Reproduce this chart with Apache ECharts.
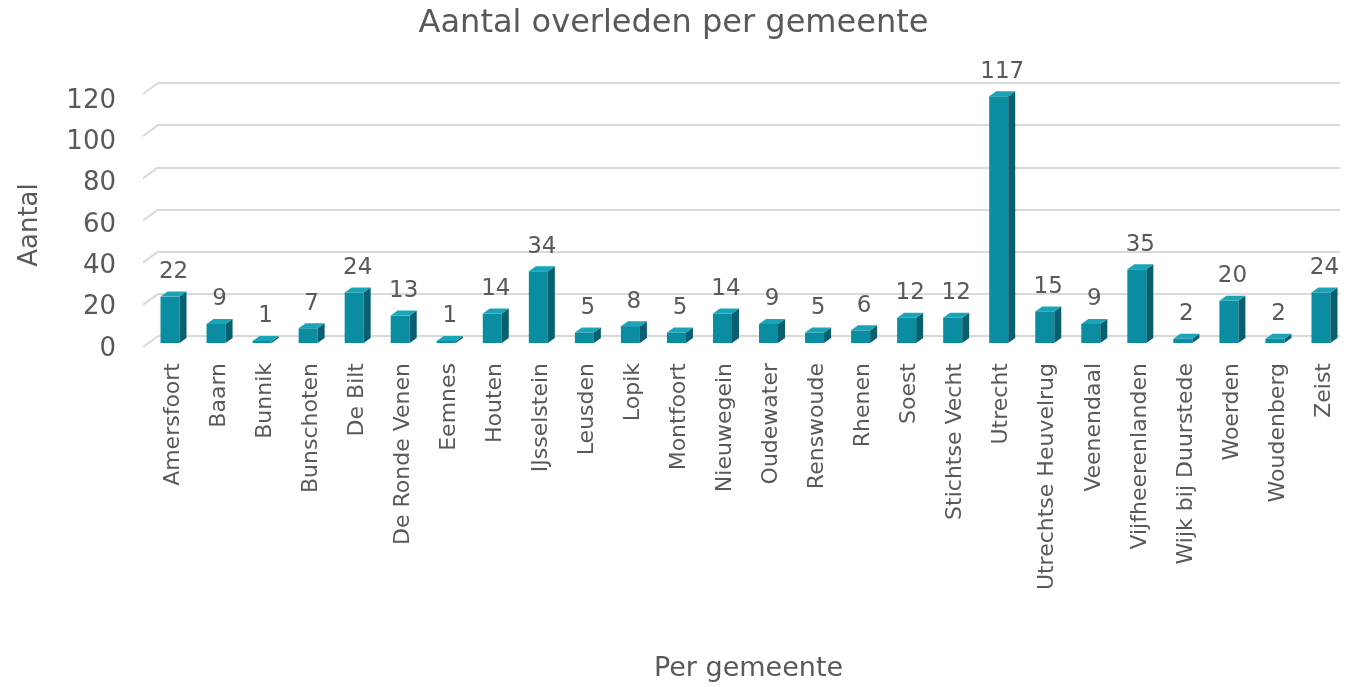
<!DOCTYPE html>
<html>
<head>
<meta charset="utf-8">
<script src="https://cdn.jsdelivr.net/npm/echarts@6/dist/echarts.min.js"></script>
<style>
  html, body { margin: 0; padding: 0; background: #fff; }
  #chart { width: 1347px; height: 687px; }
</style>
</head>
<body>
<div id="chart"></div>
<script>
  var gemeenten = ['Amersfoort', 'Baarn', 'Bunnik', 'Bunschoten', 'De Bilt', 'De Ronde Venen', 'Eemnes', 'Houten',
    'IJsselstein', 'Leusden', 'Lopik', 'Montfoort', 'Nieuwegein', 'Oudewater', 'Renswoude', 'Rhenen', 'Soest',
    'Stichtse Vecht', 'Utrecht', 'Utrechtse Heuvelrug', 'Veenendaal', 'Vijfheerenlanden', 'Wijk bij Duurstede',
    'Woerden', 'Woudenberg', 'Zeist'];
  var overleden = [22, 9, 1, 7, 24, 13, 1, 14, 34, 5, 8, 5, 14, 9, 5, 6, 12, 12, 117, 15, 9, 35, 2, 20, 2, 24];
  var yTicks = [0, 20, 40, 60, 80, 100, 120];

  var font = 'DejaVu Sans, Verdana, sans-serif';
  var grijs = '#595959';
  var lijn = '#d9d9d9';

  // 3D-achtige staaf: voorkant, zijkant, bovenkant + label
  function renderBar(params, api) {
    var v = api.value(1);
    var base = api.coord([api.value(0), 0]);
    var top = api.coord([api.value(0), v]);
    var w = 19, d = 7, dy = 5;
    var x = base[0] - w / 2 - 3;
    var h = Math.max(base[1] - top[1], 0);
    return {
      type: 'group',
      children: [
        { type: 'rect', shape: { x: x, y: top[1], width: w, height: h }, style: { fill: '#0a8ca1' } },
        { type: 'polygon', shape: { points: [[x + w, top[1]], [x + w + d, top[1] - dy], [x + w + d, base[1] - dy], [x + w, base[1]]] },
          style: { fill: '#07606f' } },
        { type: 'polygon', shape: { points: [[x, top[1]], [x + d, top[1] - dy], [x + w + d, top[1] - dy], [x + w, top[1]]] },
          style: { fill: '#1ba3b8' } },
        { type: 'text', x: x + (w + d) / 2, y: top[1] - dy - 8,
          style: { text: String(v), fill: grijs, font: '23px ' + font, align: 'center', verticalAlign: 'bottom' } }
      ]
    };
  }

  // schuine stukjes links van de rasterlijnen (achterwand)
  function renderDiag(params, api) {
    var p = api.coord([0, api.value(0)]);
    return {
      type: 'line',
      shape: { x1: p[0] - 15, y1: p[1] + 11, x2: p[0], y2: p[1] },
      style: { stroke: lijn, lineWidth: 2 }
    };
  }

  var chart = echarts.init(document.getElementById('chart'));
  chart.setOption({
    animation: false,
    backgroundColor: '#fff',
    title: {
      text: 'Aantal overleden per gemeente',
      left: 'center',
      top: 3,
      textStyle: { color: grijs, fontSize: 32, fontWeight: 'normal', fontFamily: font }
    },
    grid: [
      { left: 150, right: 0, top: 90, bottom: 344 },   // staven
      { left: 158, right: 7, top: 83, bottom: 351 },   // rasterlijnen (achterwand)
      { left: 150, right: 0, top: 101, bottom: 338 }   // as-labels (voorkant)
    ],
    xAxis: [{
      type: 'category',
      gridIndex: 0,
      data: gemeenten,
      name: 'Per gemeente',
      nameLocation: 'middle',
      nameGap: 312,
      nameTextStyle: { color: grijs, fontSize: 27, fontFamily: font },
      axisLine: { show: false },
      axisTick: { show: false },
      axisLabel: { interval: 0, rotate: 90, margin: 20, color: grijs, fontSize: 22, fontFamily: font }
    }, {
      type: 'value', gridIndex: 1, min: 0, max: 1, show: false
    }, {
      type: 'value', gridIndex: 2, min: 0, max: 1, show: false
    }],
    yAxis: [{
      type: 'value',
      gridIndex: 0,
      min: yTicks[0],
      max: yTicks[yTicks.length - 1],
      interval: yTicks[1] - yTicks[0],
      show: false
    }, {
      type: 'value',
      gridIndex: 1,
      min: yTicks[0],
      max: yTicks[yTicks.length - 1],
      interval: yTicks[1] - yTicks[0],
      axisLine: { show: false },
      axisTick: { show: false },
      axisLabel: { show: false },
      splitLine: { lineStyle: { color: lijn, width: 2 } }
    }, {
      type: 'value',
      gridIndex: 2,
      min: yTicks[0],
      max: yTicks[yTicks.length - 1],
      interval: yTicks[1] - yTicks[0],
      name: 'Aantal',
      nameLocation: 'middle',
      nameGap: 107,
      nameTextStyle: { color: grijs, fontSize: 26, fontFamily: font },
      axisLine: { show: false },
      axisTick: { show: false },
      axisLabel: { margin: 34, color: grijs, fontSize: 26, fontFamily: font },
      splitLine: { show: false }
    }],
    series: [{
      type: 'custom',
      xAxisIndex: 1,
      yAxisIndex: 1,
      renderItem: renderDiag,
      encode: { y: 0 },
      data: yTicks.map(function (t) { return [t]; }),
      z: 1
    }, {
      type: 'custom',
      xAxisIndex: 0,
      yAxisIndex: 0,
      renderItem: renderBar,
      encode: { x: 0, y: 1 },
      data: overleden.map(function (v, i) { return [i, v]; }),
      z: 2
    }]
  });
</script>
</body>
</html>
